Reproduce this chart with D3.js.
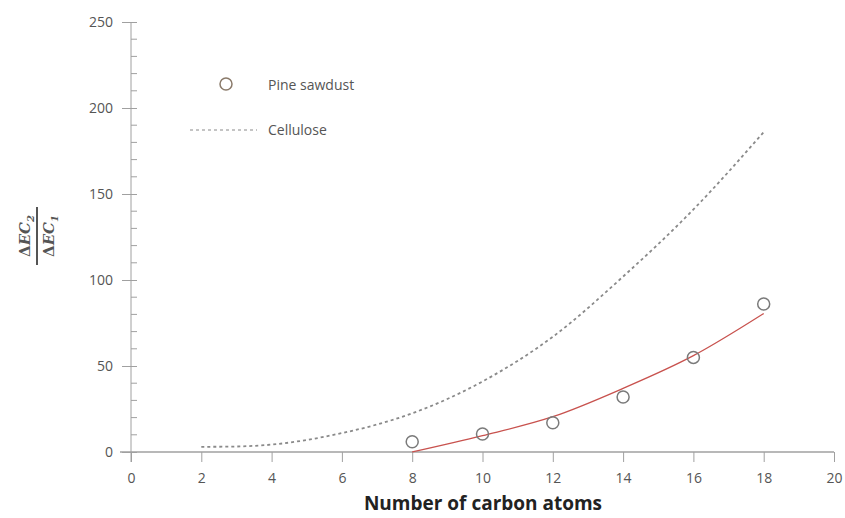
<!DOCTYPE html>
<html><head><meta charset="utf-8">
<script src="https://cdn.jsdelivr.net/npm/d3@7"></script>
<style>body{margin:0;background:#fff;} svg{display:block;}</style>
</head><body>
<svg id="c" width="845" height="518"></svg>
<script>
// Data
const xTicks = [0, 2, 4, 6, 8, 10, 12, 14, 16, 18, 20];
const yTicks = [0, 50, 100, 150, 200, 250];
const pineCarbon = [8, 10, 12, 14, 16, 18];
const pineValues = [6, 10.5, 17, 32, 55, 86];
const fitCarbon = [8, 10, 12, 14, 16, 18];
const fitValues = [0, 9.5, 20.5, 37, 56, 80.5];
const celluloseCarbon = [2, 3, 4, 5, 6, 7, 8, 10, 12, 14, 16, 18];
const celluloseValues = [3, 3.2, 4.3, 7, 11, 16, 22.5, 41, 67, 102, 141, 186];
const legendLabels = ["Pine sawdust", "Cellulose"];

const svg = d3.select("#c");
const x = d3.scaleLinear().domain([0, 20]).range([131, 834]);
const y = d3.scaleLinear().domain([0, 250]).range([452, 22]);
const axisCol = "#a0a0a0", textCol = "#555";
const font = "'Open Sans', 'Liberation Sans', sans-serif";

// Y axis minor ticks (inward to the right)
const yMinor = d3.range(0, 251, 10).filter(v => v % 50 !== 0);
svg.append("g").selectAll("line").data(yMinor).join("line")
  .attr("x1", x(0)).attr("x2", x(0) + 6)
  .attr("y1", d => y(d)).attr("y2", d => y(d))
  .attr("stroke", axisCol).attr("stroke-width", 1);

// Y axis
const yAxis = svg.append("g").attr("transform", `translate(${x(0)},0)`)
  .call(d3.axisLeft(y).tickValues(yTicks).tickSize(9).tickPadding(9).tickFormat(d3.format("d")));
yAxis.select(".domain").attr("stroke", axisCol).attr("d", `M0,${y(250)}V${y(0) + 10}`);
yAxis.selectAll(".tick line").attr("stroke", axisCol).attr("x2", -9).attr("x1", 6);
yAxis.selectAll(".tick text").attr("fill", textCol).style("font-family", font).style("font-size", "14px");

// X axis
const xAxis = svg.append("g").attr("transform", `translate(0,${y(0)})`)
  .call(d3.axisBottom(x).tickValues(xTicks).tickSize(10).tickPadding(11).tickFormat(d3.format("d")));
xAxis.select(".domain").attr("stroke", axisCol).attr("stroke-width", 1.5).attr("d", `M120,0H${x(20)}`);
xAxis.selectAll(".tick line").attr("stroke", axisCol);
xAxis.selectAll(".tick text").attr("fill", textCol).style("font-family", font).style("font-size", "14px");

// Axis titles
svg.append("text").attr("x", 483).attr("y", 510).attr("text-anchor", "middle")
  .style("font-family", font).style("font-size", "19px").style("font-weight", "bold").attr("fill", "#222")
  .text("Number of carbon atoms");

const yl = svg.append("g").attr("transform", "translate(37,236) rotate(-90)");
yl.append("line").attr("x1", -29).attr("x2", 29).attr("y1", 0).attr("y2", 0).attr("stroke", "#555").attr("stroke-width", 2);
const num = yl.append("text").attr("x", 0).attr("y", -7).attr("text-anchor", "middle")
  .style("font-family", "'DejaVu Serif', serif").style("font-size", "15px").style("font-weight", "bold").attr("fill", "#555");
num.append("tspan").text("Δ");
num.append("tspan").style("font-style", "italic").text("EC");
num.append("tspan").attr("dy", 4).style("font-size", "10px").style("font-style", "italic").text("2");
const den = yl.append("text").attr("x", 0).attr("y", 17).attr("text-anchor", "middle")
  .style("font-family", "'DejaVu Serif', serif").style("font-size", "15px").style("font-weight", "bold").attr("fill", "#555");
den.append("tspan").text("Δ");
den.append("tspan").style("font-style", "italic").text("EC");
den.append("tspan").attr("dy", 4).style("font-size", "10px").style("font-style", "italic").text("1");

// Cellulose dotted curve
const cellData = celluloseCarbon.map((c, i) => [c, celluloseValues[i]]);
svg.append("path").datum(cellData)
  .attr("d", d3.line().x(d => x(d[0])).y(d => y(d[1])).curve(d3.curveMonotoneX))
  .attr("fill", "none").attr("stroke", "#8a8a8a").attr("stroke-width", 1.8).attr("stroke-dasharray", "3,3");

// Pine fit curve
const fitData = fitCarbon.map((c, i) => [c, fitValues[i]]);
svg.append("path").datum(fitData)
  .attr("d", d3.line().x(d => x(d[0])).y(d => y(d[1])).curve(d3.curveMonotoneX))
  .attr("fill", "none").attr("stroke", "#c8524e").attr("stroke-width", 1.3);

// Pine points
const pineData = pineCarbon.map((c, i) => [c, pineValues[i]]);
svg.append("g").selectAll("circle").data(pineData).join("circle")
  .attr("cx", d => x(d[0])).attr("cy", d => y(d[1])).attr("r", 6)
  .attr("fill", "none").attr("stroke", "#7a7a7a").attr("stroke-width", 1.5);

// Legend
svg.append("circle").attr("cx", 226).attr("cy", 84).attr("r", 6)
  .attr("fill", "none").attr("stroke", "#8a7a6a").attr("stroke-width", 1.5);
svg.append("text").attr("x", 268).attr("y", 90).text(legendLabels[0])
  .style("font-family", font).style("font-size", "14px").attr("fill", textCol);
svg.append("line").attr("x1", 190).attr("x2", 257).attr("y1", 130).attr("y2", 130)
  .attr("stroke", "#8a8a8a").attr("stroke-width", 1.2).attr("stroke-dasharray", "3,3");
svg.append("text").attr("x", 268).attr("y", 135).text(legendLabels[1])
  .style("font-family", font).style("font-size", "14px").attr("fill", textCol);
</script>
</body></html>
